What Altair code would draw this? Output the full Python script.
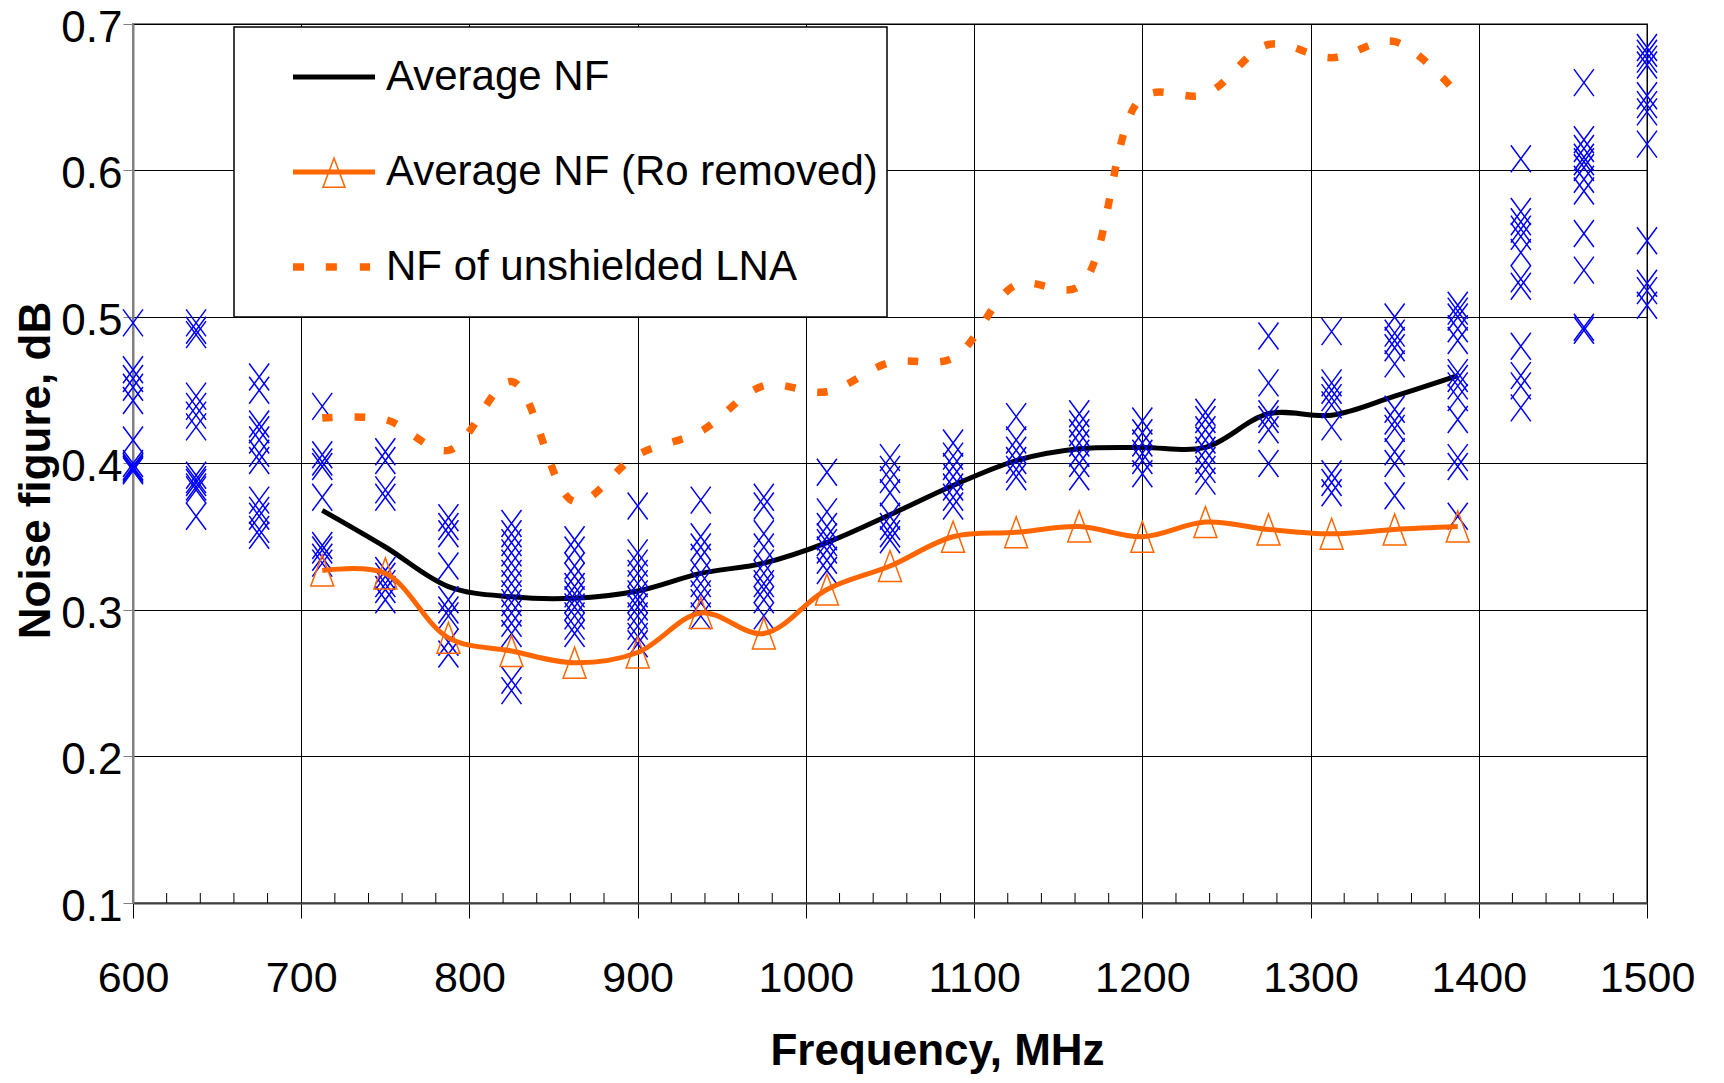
import altair as alt
import pandas as pd

FONT = "Liberation Sans"
BLUE = "#0000ff"
ORANGE = "#ff6600"

# ---------------- data ----------------
SCATTER_FREQS = [600, 637.5, 675, 712.5, 750, 787.5, 825, 862.5, 900, 937.5, 975,
                 1012.5, 1050, 1087.5, 1125, 1162.5, 1200, 1237.5, 1275, 1312.5,
                 1350, 1387.5, 1425, 1462.5, 1500]
SCATTER_VALUES = [
    [0.496, 0.464, 0.458, 0.452, 0.443, 0.416, 0.400, 0.398, 0.397, 0.396, 0.395],
    [0.496, 0.491, 0.488, 0.446, 0.439, 0.433, 0.425, 0.392, 0.389, 0.387, 0.384, 0.382, 0.364],
    [0.459, 0.450, 0.427, 0.423, 0.416, 0.407, 0.402, 0.375, 0.368, 0.364, 0.355, 0.351],
    [0.439, 0.406, 0.401, 0.398, 0.377, 0.344, 0.341, 0.336, 0.332],
    [0.408, 0.402, 0.382, 0.377, 0.327, 0.323, 0.318, 0.314, 0.307],
    [0.363, 0.357, 0.352, 0.330, 0.307, 0.300, 0.296, 0.278, 0.270],
    [0.359, 0.352, 0.346, 0.339, 0.332, 0.325, 0.318, 0.311, 0.305, 0.298, 0.291, 0.284, 0.252, 0.245],
    [0.348, 0.341, 0.330, 0.323, 0.316, 0.311, 0.307, 0.302, 0.296, 0.289, 0.284],
    [0.371, 0.339, 0.332, 0.325, 0.318, 0.311, 0.307, 0.302, 0.296, 0.289, 0.282, 0.277],
    [0.375, 0.350, 0.343, 0.336, 0.325, 0.318, 0.311, 0.305, 0.296],
    [0.377, 0.371, 0.352, 0.343, 0.332, 0.325, 0.318, 0.314, 0.307, 0.296],
    [0.394, 0.367, 0.357, 0.350, 0.346, 0.341, 0.334, 0.327],
    [0.404, 0.396, 0.389, 0.380, 0.364, 0.357, 0.352, 0.348],
    [0.414, 0.405, 0.398, 0.391, 0.384, 0.377, 0.371],
    [0.432, 0.416, 0.409, 0.402, 0.396, 0.391],
    [0.434, 0.427, 0.421, 0.414, 0.407, 0.400, 0.391],
    [0.429, 0.421, 0.414, 0.407, 0.402, 0.393],
    [0.435, 0.430, 0.423, 0.416, 0.409, 0.402, 0.396, 0.388],
    [0.487, 0.455, 0.434, 0.430, 0.423, 0.400],
    [0.490, 0.455, 0.450, 0.445, 0.440, 0.425, 0.393, 0.387, 0.380],
    [0.500, 0.489, 0.484, 0.479, 0.468, 0.437, 0.429, 0.424, 0.408, 0.400, 0.378],
    [0.508, 0.504, 0.500, 0.492, 0.484, 0.462, 0.458, 0.453, 0.445, 0.430, 0.404, 0.398, 0.364],
    [0.608, 0.572, 0.565, 0.560, 0.555, 0.544, 0.526, 0.521, 0.480, 0.460, 0.453, 0.438],
    [0.660, 0.621, 0.615, 0.609, 0.606, 0.602, 0.594, 0.586, 0.557, 0.532, 0.493, 0.491],
    [0.684, 0.680, 0.676, 0.672, 0.651, 0.645, 0.640, 0.618, 0.552, 0.523, 0.518, 0.508],
]

LINE_FREQS = [712.5, 750, 787.5, 825, 862.5, 900, 937.5, 975, 1012.5, 1050, 1087.5,
              1125, 1162.5, 1200, 1237.5, 1275, 1312.5, 1350, 1387.5]
AVG_NF = [0.368, 0.343, 0.316, 0.309, 0.308, 0.313, 0.325, 0.332, 0.346, 0.365, 0.385,
          0.402, 0.410, 0.411, 0.411, 0.434, 0.433, 0.446, 0.460]
AVG_NF_RO = [0.327, 0.325, 0.281, 0.272, 0.264, 0.271, 0.298, 0.284, 0.314, 0.330, 0.350,
             0.353, 0.357, 0.350, 0.360, 0.355, 0.352, 0.355, 0.357]
NF_UNSHIELDED = [0.431, 0.430, 0.409, 0.456, 0.374, 0.406, 0.422, 0.453, 0.449, 0.469, 0.472,
                 0.522, 0.521, 0.650, 0.652, 0.686, 0.677, 0.688, 0.652]

SERIES = ["Average NF", "Average NF (Ro removed)", "NF of unshielded LNA"]
X_TICKS = [600, 700, 800, 900, 1000, 1100, 1200, 1300, 1400, 1500]
Y_TICKS = [0.1, 0.2, 0.3, 0.4, 0.5, 0.6, 0.7]
MINOR_TICKS = [v for v in range(600, 1501, 20) if v % 100]

# ---------------- tables ----------------
scatter_df = pd.DataFrame(
    [{"f": f, "v": v} for f, vals in zip(SCATTER_FREQS, SCATTER_VALUES) for v in vals]
)
avg_df = pd.DataFrame({"f": LINE_FREQS, "v": AVG_NF})
ro_df = pd.DataFrame({"f": LINE_FREQS, "v": AVG_NF_RO})
uns_df = pd.DataFrame({"f": LINE_FREQS, "v": NF_UNSHIELDED})
minor_df = pd.DataFrame({"f": MINOR_TICKS})
legend_df = pd.DataFrame({"series": SERIES, "f": [700] * 3, "v": [0.2] * 3})

# ---------------- scales / axes ----------------
x_scale = alt.Scale(domain=[600, 1500], nice=False, zero=False)
y_scale = alt.Scale(domain=[0.1, 0.7], nice=False, zero=False)

x_axis = alt.Axis(
    values=X_TICKS, format="d", title="Frequency, MHz",
    grid=True, gridColor="black", gridWidth=1,
    tickSize=15, tickColor="black", tickWidth=1,
    labelPadding=39, labelFontSize=43, labelFont=FONT, labelColor="black",
    labelFlush=False, labelOverlap=False,
    domainColor="#404040", domainWidth=2,
    titleFont=FONT, titleFontSize=44, titleFontWeight="bold", titleColor="black",
    titleX=804, titleY=161, titleBaseline="alphabetic", titleAlign="center",
)
y_axis = alt.Axis(
    values=Y_TICKS, format=".1f", title="Noise figure, dB",
    grid=True, gridColor="black", gridWidth=1,
    tickSize=10, tickColor="#808080", tickWidth=1,
    labelPadding=1, labelFontSize=44, labelFont=FONT, labelColor="black",
    labelOffset=4, labelFlush=False, labelOverlap=False,
    domainColor="#808080", domainWidth=2,
    titleFont=FONT, titleFontSize=44, titleFontWeight="bold", titleColor="black",
    titleX=-84, titleY=446, titleAngle=-90, titleBaseline="alphabetic", titleAlign="center",
)

X = alt.X("f:Q", scale=x_scale, axis=x_axis)
Y = alt.Y("v:Q", scale=y_scale, axis=y_axis)

X_PATH = "M-0.74,-1L0.74,1M-0.74,1L0.74,-1"
TRI_PATH = "M0,-1L0.74,1L-0.74,1Z"

# legend symbol paths (unit square -1..1, drawn filled)
LEG_LINE = "M-1,-0.061H1V0.061H-1Z"
LEG_LINE_TRI = ("M-1,-0.061H1V0.061H-1Z"
                "M0,-0.39L0.295,0.39L-0.295,0.39Z"
                "M0,-0.285L-0.241,0.353L0.241,0.353Z")
LEG_DASH = ("M-1,-0.089H-0.73V0.089H-1Z"
            "M-0.2,-0.089H0.07V0.089H-0.2Z"
            "M0.63,-0.089H0.88V0.089H0.63Z")

legend = alt.Legend(
    title=None, orient="none", legendX=101, legendY=3,
    symbolSize=6724, symbolStrokeWidth=0, symbolOffset=50, symbolOpacity=1,
    labelOffset=11, rowPadding=13, padding=9, clipHeight=82,
    fillColor="white", strokeColor="black",
    labelFontSize=42, labelFont=FONT, labelColor="black", labelLimit=2000,
)

# ---------------- layers ----------------
minor = alt.Chart(minor_df).mark_rule(color="black", strokeWidth=1).encode(
    x=alt.X("f:Q", scale=x_scale, axis=x_axis),
    y=alt.value(869), y2=alt.value(879),
)

avg_line = alt.Chart(avg_df).mark_line(
    color="black", strokeWidth=5, interpolate="catmull-rom"
).encode(x=X, y=Y)

points = alt.Chart(scatter_df).mark_point(
    shape=X_PATH, size=729, filled=False, color=BLUE, strokeWidth=1.5, opacity=1
).encode(x=X, y=Y)

ro_line = alt.Chart(ro_df).mark_line(
    color=ORANGE, strokeWidth=5, interpolate="catmull-rom"
).encode(x=X, y=Y)

ro_tri = alt.Chart(ro_df).mark_point(
    shape=TRI_PATH, size=961, filled=False, color=ORANGE, strokeWidth=1.5, opacity=1
).encode(x=X, y=Y)

uns_line = alt.Chart(uns_df).mark_line(
    color=ORANGE, strokeWidth=7.5, strokeDash=[10.5, 22], interpolate="catmull-rom"
).encode(x=X, y=Y)

legend_layer = alt.Chart(legend_df).mark_point(filled=True, opacity=1).encode(
    x=X, y=Y,
    color=alt.Color("series:N", scale=alt.Scale(domain=SERIES, range=["#000000", ORANGE, ORANGE]),
                    legend=legend),
    shape=alt.Shape("series:N", scale=alt.Scale(domain=SERIES, range=[LEG_LINE, LEG_LINE_TRI, LEG_DASH]),
                    legend=legend),
).transform_filter("false")

chart = alt.layer(
    minor, avg_line, points, ro_line, ro_tri, uns_line, legend_layer
).properties(
    width=1514, height=879,
    autosize=alt.AutoSizeParams(type="none"),
    padding={"left": 125, "top": 16, "right": 60, "bottom": 172},
    background="white",
).configure_view(
    stroke="#808080", strokeWidth=2
).configure_legend(
    strokeWidth=1.5
)

chart.save("out.html", embed_options={"renderer": "svg", "actions": False})
